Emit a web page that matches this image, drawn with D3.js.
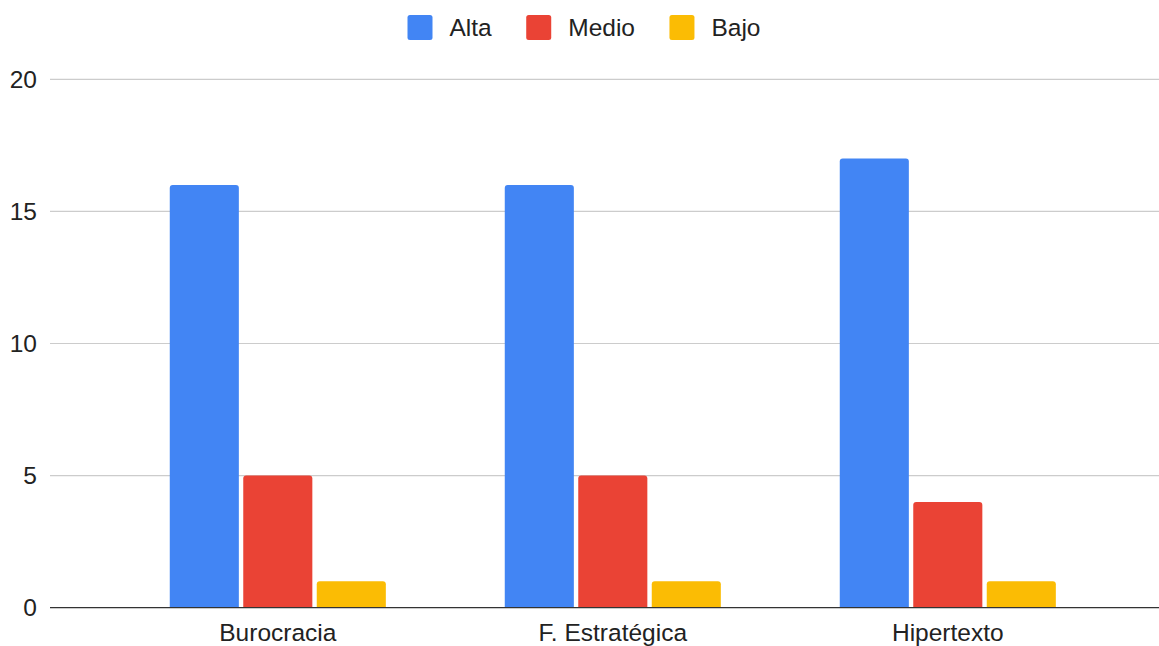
<!DOCTYPE html>
<html>
<head>
<meta charset="utf-8">
<script src="https://cdn.jsdelivr.net/npm/d3@7"></script>
<style>
  html, body { margin: 0; padding: 0; background: #fff; }
  svg { display: block; font-family: Arial, "Liberation Sans", sans-serif; }
</style>
</head>
<body>
<svg id="chart" width="1159" height="646"></svg>
<script>
// ---- data ----
const categories = ["Burocracia", "F. Estratégica", "Hipertexto"];
const seriesNames = ["Alta", "Medio", "Bajo"];
const altaValues = [16, 16, 17];
const medioValues = [5, 5, 4];
const bajoValues = [1, 1, 1];
const yTicks = [0, 5, 10, 15, 20];
const seriesColors = ["#4285F4", "#EA4335", "#FBBC04"];

const seriesValues = [altaValues, medioValues, bajoValues];
const rows = categories.map((c, i) => ({
  category: c,
  values: seriesNames.map((s, j) => ({ key: s, value: seriesValues[j][i], color: seriesColors[j] }))
}));

// ---- layout ----
const W = 1159, H = 646;
const gridLeft = 50, gridRight = 1159;
const yTop = 79.3, yBottom = 607.7;
const fontSize = 24.5;
const textColor = "#222";

const svg = d3.select("#chart");

const y = d3.scaleLinear().domain([0, 20]).range([yBottom, yTop]);
const x0 = d3.scaleBand().domain(categories).range([110.3, 1115.3])
  .paddingInner(0.355).paddingOuter(0.1775);
const x1 = d3.scaleBand().domain(seriesNames).range([0, x0.bandwidth()]).paddingInner(0.06);

// gridlines
svg.append("g").selectAll("line").data(yTicks.filter(t => t !== 0)).join("line")
  .attr("x1", gridLeft).attr("x2", gridRight)
  .attr("y1", d => y(d)).attr("y2", d => y(d))
  .attr("stroke", "#cccccc").attr("stroke-width", 1.2);

// y axis labels
const yAxis = d3.axisLeft(y).tickValues(yTicks).tickSize(0).tickPadding(0);
const yg = svg.append("g").attr("transform", `translate(37,0)`).call(yAxis);
yg.select(".domain").remove();
yg.selectAll("text").attr("font-size", fontSize).attr("fill", textColor)
  .attr("font-family", "Arial, 'Liberation Sans', sans-serif");

// bars with rounded top corners
function barPath(x, yTopPx, w, h, r) {
  r = Math.min(r, h, w / 2);
  return `M${x},${yTopPx + h}V${yTopPx + r}Q${x},${yTopPx} ${x + r},${yTopPx}` +
         `H${x + w - r}Q${x + w},${yTopPx} ${x + w},${yTopPx + r}V${yTopPx + h}Z`;
}

const groups = svg.append("g").selectAll("g").data(rows).join("g")
  .attr("transform", d => `translate(${x0(d.category)},0)`);
groups.selectAll("path").data(d => d.values).join("path")
  .attr("d", d => barPath(x1(d.key), y(d.value), x1.bandwidth(), yBottom - y(d.value), 3))
  .attr("fill", d => d.color);

// baseline
svg.append("line")
  .attr("x1", gridLeft).attr("x2", gridRight)
  .attr("y1", y(0)).attr("y2", y(0))
  .attr("stroke", "#333").attr("stroke-width", 1.3);

// x axis labels
const xAxis = d3.axisBottom(x0).tickSize(0).tickPadding(0);
const xg = svg.append("g").attr("transform", `translate(0,${yBottom})`).call(xAxis);
xg.select(".domain").remove();
xg.selectAll("text").attr("font-size", fontSize).attr("fill", textColor)
  .attr("font-family", "Arial, 'Liberation Sans', sans-serif")
  .attr("dy", null).attr("y", 33.5);

// legend
const legend = svg.append("g");
const sq = 25, gapText = 17, gapItem = 34.5;
const items = legend.selectAll("g").data(seriesNames).join("g");
items.append("rect").attr("width", sq).attr("height", sq).attr("rx", 2.5).attr("y", 15)
  .attr("fill", (d, i) => seriesColors[i]);
items.append("text").text(d => d).attr("x", sq + gapText).attr("y", 35.5)
  .attr("font-size", fontSize).attr("fill", textColor);
let cx = 0;
const offsets = [];
items.each(function () {
  offsets.push(cx);
  const tw = d3.select(this).select("text").node().getComputedTextLength();
  cx += sq + gapText + tw + gapItem;
});
const total = cx - gapItem;
const startX = 584 - total / 2;
items.attr("transform", (d, i) => `translate(${startX + offsets[i]},0)`);
</script>
</body>
</html>
